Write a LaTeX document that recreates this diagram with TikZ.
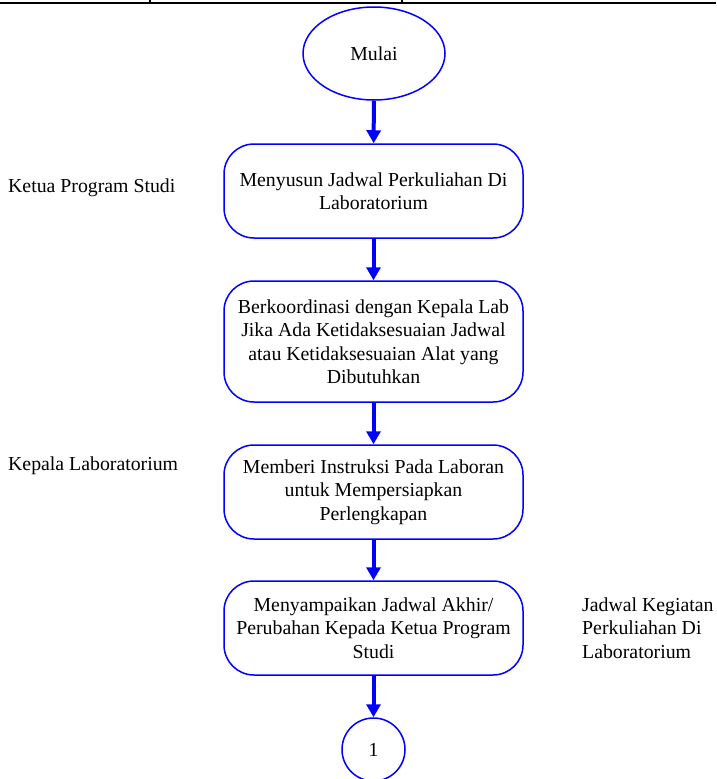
\documentclass[tikz,border=0pt]{standalone}
\usepackage{fontspec}
\setmainfont{Liberation Serif}
\usetikzlibrary{arrows.meta,shapes.geometric}

\begin{document}
\begin{tikzpicture}[x=1pt,y=-1pt,
        font=\fontsize{19.8}{23.5}\selectfont,
        proc node/.style={rectangle,rounded corners=30pt,draw=blue,line width=1.5pt,
            minimum width=299pt,align=center,inner sep=0pt},
        flow/.style={-{Triangle[width=14pt,length=13pt]},draw=blue,line width=4pt},
        lane/.style={anchor=west,inner sep=0pt,align=left}]

    \useasboundingbox (0,0) rectangle (716,779);

    % garis tabel
    \draw[line width=2pt] (0,2.5) -- (716,2.5);
    \draw[line width=1.2pt] (150,0) -- (150,2.5) (402,0) -- (402,2.5);

    \node[ellipse, draw=blue, line width=1.5pt, minimum width=142pt, minimum height=93pt, inner sep=0pt] (mulai) at (374,53.5) {Mulai};
    \node[proc node, minimum height=94pt] (susun) at (373.5,191) {Menyusun Jadwal Perkuliahan Di\\Laboratorium};
    \node[proc node, minimum height=121pt] (koord) at (373.5,341.5) {Berkoordinasi dengan Kepala Lab\\Jika Ada Ketidaksesuaian Jadwal\\atau Ketidaksesuaian Alat yang\\Dibutuhkan};
    \node[proc node, minimum height=94pt] (instr) at (373.5,492) {Memberi Instruksi Pada Laboran\\untuk Mempersiapkan\\Perlengkapan};
    \node[proc node, minimum height=94pt] (sampai) at (373.5,628) {Menyampaikan Jadwal Akhir/\\Perubahan Kepada Ketua Program\\Studi};
    \node[circle, draw=blue, line width=1.5pt, minimum size=63pt, inner sep=0pt] (satu) at (373.5,749.5) {1};

    \node[lane] (kaprodi) at (8,188) {Ketua Program Studi};
    \node[lane] (kalab) at (8,466) {Kepala Laboratorium};
    \node[lane] (jadwal) at (582,628) {Jadwal Kegiatan\\Perkuliahan Di\\Laboratorium};

    \path
    (mulai) edge [flow] (susun)
    (susun) edge [flow] (koord)
    (koord) edge [flow] (instr)
    (instr) edge [flow] (sampai)
    (sampai) edge [flow] (satu);

\end{tikzpicture}
\end{document}
